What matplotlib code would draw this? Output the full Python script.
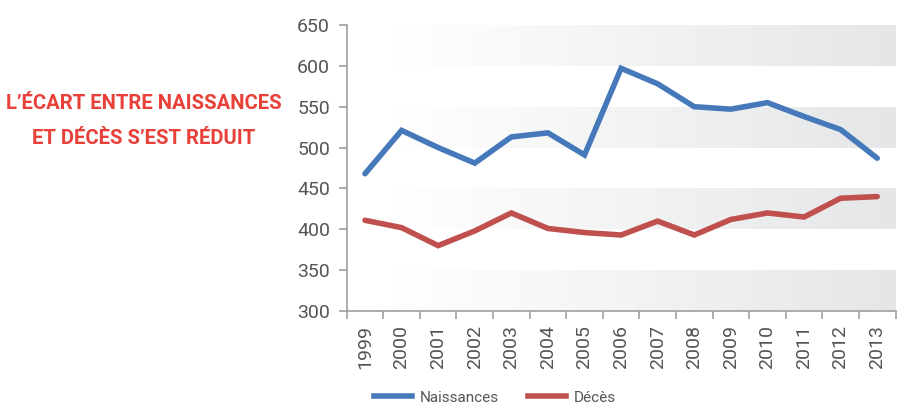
import numpy as np
import matplotlib
matplotlib.use("Agg")
import matplotlib.pyplot as plt
from matplotlib.lines import Line2D
from matplotlib.colors import LinearSegmentedColormap

years = ["1999", "2000", "2001", "2002", "2003", "2004", "2005", "2006",
         "2007", "2008", "2009", "2010", "2011", "2012", "2013"]
naissances = [468, 521, 500, 481, 513, 518, 491, 597, 578, 550, 547, 555, 538, 522, 487]
deces = [411, 402, 380, 398, 420, 401, 396, 393, 410, 393, 412, 420, 415, 438, 440]
yticks = [300, 350, 400, 450, 500, 550, 600, 650]
bands = [(300, 350), (400, 450), (500, 550), (600, 650)]
title = "L\u2019ÉCART ENTRE NAISSANCES\nET DÉCÈS S\u2019EST RÉDUIT"

BLUE = "#4579BA"
RED = "#C0504D"
GREY_TXT = "#555555"
SPINE = "#A0A0A0"

plt.rcParams['font.family'] = ['Roboto', 'DejaVu Sans']

fig = plt.figure(figsize=(9.05, 4.05), dpi=100)
ax = fig.add_axes([346.7 / 905, 1 - 311 / 405, (895.5 - 346.7) / 905, (311 - 25) / 405])

n = len(years)
x = np.arange(n)

# gradient bands
cmap = LinearSegmentedColormap.from_list("g", ["#FFFFFF", "#E5E6E8"])
grad = np.linspace(0, 1, 256).reshape(1, -1)
xstart = -0.5 + (393 - 346.7) / 36.6
for lo, hi in bands:
    ax.imshow(grad, cmap=cmap, aspect="auto", extent=(xstart, n - 0.5, lo, hi),
              zorder=0, interpolation="bilinear")
ax.set_xlim(-0.5, n - 0.5)
ax.set_ylim(300, 650)

ax.plot(x, naissances, color=BLUE, lw=4.0, solid_capstyle="round",
        solid_joinstyle="miter", zorder=3)
ax.plot(x, deces, color=RED, lw=4.0, solid_capstyle="round",
        solid_joinstyle="miter", zorder=3)

for s in ["top", "right"]:
    ax.spines[s].set_visible(False)
for s in ["left", "bottom"]:
    ax.spines[s].set_color(SPINE)
    ax.spines[s].set_linewidth(1.2)

ax.set_yticks(yticks)
ax.set_yticklabels([str(v) for v in yticks], fontsize=14, color=GREY_TXT)
ax.tick_params(axis="y", length=6, color=SPINE, width=1.2, pad=6)

ax.set_xticks(np.arange(n + 1) - 0.5, minor=False)
ax.set_xticklabels([])
ax.tick_params(axis="x", which="major", length=6, color=SPINE, width=1.2)
ax.set_xticks(x, minor=True)
ax.set_xticklabels(years, minor=True, rotation=90, fontsize=14, color=GREY_TXT)
ax.tick_params(axis="x", which="minor", length=0, pad=10)

fig.text(143.5 / 905, 1 - 121 / 405, title, ha="center", va="center",
         fontsize=14.6, fontweight="bold", color="#E8413A",
         family="Roboto", linespacing=2.12)

handles = [Line2D([0], [0], color=BLUE, lw=4.0),
           Line2D([0], [0], color=RED, lw=4.0)]
fig.legend(handles, ["Naissances", "Décès"], loc="center",
           bbox_to_anchor=(495 / 905, 1 - 397.5 / 405), ncol=2, frameon=False,
           fontsize=11, handlelength=2.5, columnspacing=1.9,
           labelcolor=GREY_TXT, handletextpad=0.5, borderpad=0.2)

fig.savefig("out.png", dpi=100, facecolor="white")
